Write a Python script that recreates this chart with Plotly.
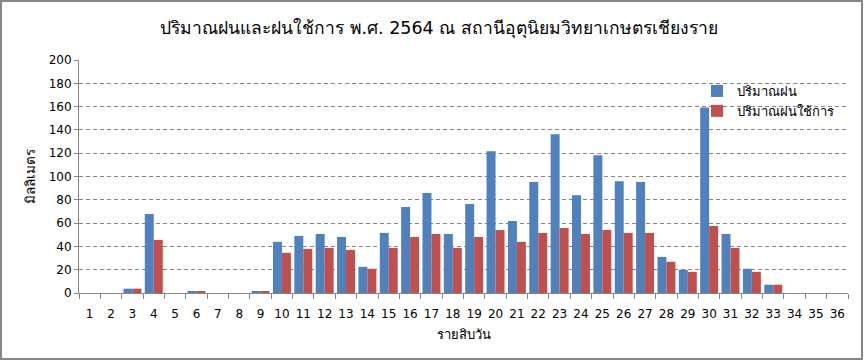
import plotly.graph_objects as go

dekads = [str(i) for i in range(1, 37)]
rain = [0, 0, 3.7, 67.8, 0, 1.0, 0, 0, 1.0, 43.9, 49.0, 50.7, 48.1, 22.5, 51.6, 73.8, 85.8, 50.7,
        76.4, 121.7, 61.8, 95.2, 136.2, 84.0, 118.2, 96.0, 95.2, 31.0, 19.9, 159.3, 50.7, 20.8,
        7.1, 0, 0, 0]
eff_rain = [0, 0, 3.7, 45.6, 0, 1.0, 0, 0, 1.0, 34.5, 37.9, 38.7, 37.0, 20.8, 38.7, 48.1, 50.7, 38.7,
            48.1, 54.1, 43.9, 51.6, 55.8, 50.7, 54.1, 51.6, 51.6, 26.8, 18.2, 57.5, 38.7, 18.2,
            7.1, 0, 0, 0]

title_text = "ปริมาณฝนและฝนใช้การ พ.ศ. 2564 ณ สถานีอุตุนิยมวิทยาเกษตรเชียงราย"
name_rain = "ปริมาณฝน"
name_eff = "ปริมาณฝนใช้การ"
y_title = "มิลลิเมตร"
x_title = "รายสิบวัน"

FONT = "DejaVu Sans, Noto Sans, sans-serif"

fig = go.Figure()
fig.add_trace(go.Bar(x=dekads, y=rain, name=name_rain, marker=dict(color="#4F81BD", line=dict(width=0))))
fig.add_trace(go.Bar(x=dekads, y=eff_rain, name=name_eff, marker=dict(color="#C0504D", line=dict(width=0))))

W, H = 864, 361
L, R, T, B = 79, 16, 60, 68
pw, ph = W - L - R, H - T - B

fig.update_layout(
    width=W, height=H,
    margin=dict(l=L, r=R, t=T, b=B),
    paper_bgcolor="white", plot_bgcolor="white",
    barmode="group", bargap=0.16, bargroupgap=0.0,
    font=dict(family=FONT, size=12, color="black"),
    title=dict(text=title_text, x=0.508, xref="container", y=1 - 28 / H, yref="container",
               xanchor="center", yanchor="middle", font=dict(size=17.5, family=FONT, color="black")),
    legend=dict(x=(697 - L) / pw, y=(293 - 76) / ph, xanchor="left", yanchor="top",
                bgcolor="rgba(0,0,0,0)", font=dict(size=13, family=FONT), tracegroupgap=4,
                itemwidth=30),
    xaxis=dict(type="category", tickson="boundaries", ticks="outside", ticklen=5,
               tickcolor="#868686", showline=True, linecolor="#868686", linewidth=1,
               showgrid=False, tickfont=dict(size=12), tickangle=0, ticklabelstandoff=10,
               title=dict(text=x_title, font=dict(size=13), standoff=9)),
    yaxis=dict(range=[0, 200], dtick=20, ticks="outside", ticklen=4, tickcolor="#868686",
               showline=True, linecolor="#868686", linewidth=1,
               showgrid=True, gridcolor="#868686", griddash="4px,3px", gridwidth=1,
               zeroline=False, tickfont=dict(size=12),
               title=dict(text=y_title, font=dict(size=13.5), standoff=9)),
    shapes=[
        dict(type="rect", xref="paper", yref="paper",
             x0=(685 - L) / pw, x1=1.0, y0=(293 - 120) / ph, y1=(293 - 70) / ph,
             line=dict(width=0), fillcolor="white", layer="between"),
        dict(type="rect", xref="paper", yref="paper",
             x0=(1 - L) / pw, x1=(862 - L) / pw,
             y0=(T + ph - 359) / ph, y1=(T + ph - 1) / ph,
             line=dict(color="#868686", width=2), fillcolor="rgba(0,0,0,0)", layer="above"),
    ],
)

fig.write_html("out.html", config={"displayModeBar": False},
               post_script="document.body.style.margin='0px';")
